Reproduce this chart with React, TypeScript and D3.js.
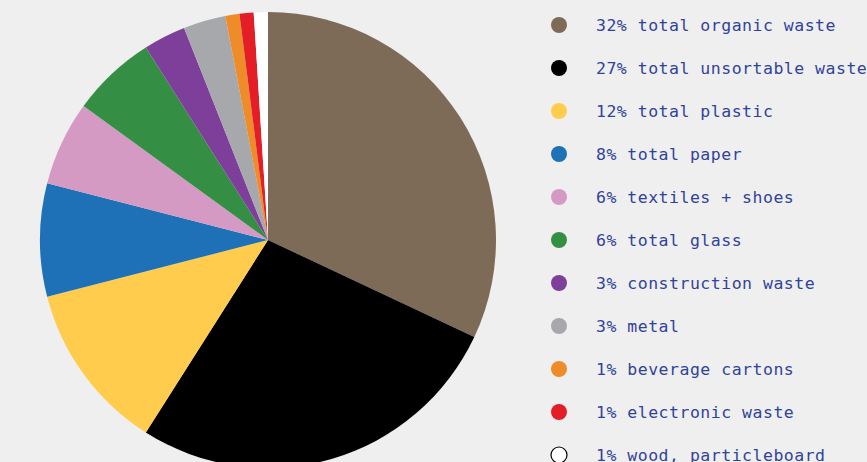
import React from "react";
import * as d3 from "d3";

const labels = [
  "32% total organic waste",
  "27% total unsortable waste",
  "12% total plastic",
  "8% total paper",
  "6% textiles + shoes",
  "6% total glass",
  "3% construction waste",
  "3% metal",
  "1% beverage cartons",
  "1% electronic waste",
  "1% wood, particleboard",
];
const values = [32, 27, 12, 8, 6, 6, 3, 3, 1, 1, 1];
const colors = [
  "#7d6b58",
  "#000000",
  "#ffcc4d",
  "#1e70b7",
  "#d59ac4",
  "#348f44",
  "#7e3f9b",
  "#a7a8ac",
  "#ef8c2a",
  "#e31e27",
  "#ffffff",
];

const W = 867;
const H = 462;

export default function App() {
  const cx = 268;
  const cy = 240;
  const r = 228;
  const pie = d3.pie<number>().sort(null).value((d) => d)(values);
  const arc = d3.arc<d3.PieArcDatum<number>>().innerRadius(0).outerRadius(r);
  const legendY = d3.scaleLinear().domain([0, 10]).range([25, 455]);
  return (
    <div style={{ position: "fixed", left: 0, top: 0, width: W, height: H, background: "#efefef" }}>
      <svg width={W} height={H} style={{ display: "block" }}>
        <rect width={W} height={H} fill="#efefef" />
        <g transform={`translate(${cx},${cy})`}>
          {pie.map((p, i) => (
            <path key={i} d={arc(p) || ""} fill={colors[i]} />
          ))}
        </g>
        {labels.map((l, i) => (
          <g key={i} transform={`translate(0,${legendY(i)})`}>
            <circle
              cx={559}
              cy={0}
              r={8}
              fill={colors[i]}
              stroke={colors[i] === "#ffffff" ? "#000" : "none"}
              strokeWidth={1.2}
            />
            <text
              x={596}
              y={5.5}
              fontFamily="'DejaVu Sans Mono', 'Liberation Mono', monospace"
              fontSize={16.5}
              letterSpacing={0.5}
              fill="#30439a"
            >
              {l}
            </text>
          </g>
        ))}
      </svg>
    </div>
  );
}
